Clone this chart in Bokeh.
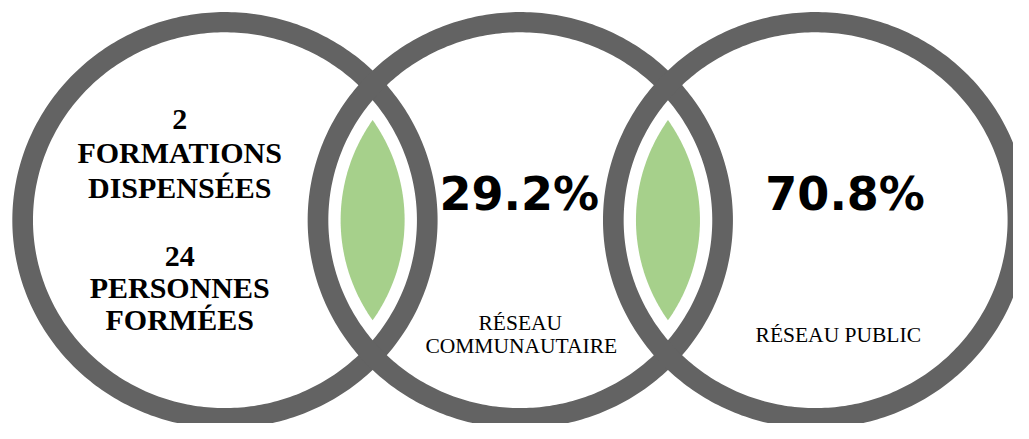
import numpy as np
from bokeh.plotting import figure
from bokeh.models import Range1d
from bokeh.core.properties import value
from bokeh.embed import file_html
from bokeh.resources import INLINE

# ---- data ----
left_lines = ["2", "FORMATIONS", "DISPENSÉES", "24", "PERSONNES", "FORMÉES"]
percents = ["29.2%", "70.8%"]
labels_comm = ["RÉSEAU", "COMMUNAUTAIRE"]
labels_pub = ["RÉSEAU PUBLIC"]

# ---- layout (reference-pixel data space) ----
W, H = 1029, 439
cx = [228, 528, 828]
cy = 228
ring_outer = 216
ring_inner = 195
lens_r = 182.5

p = figure(width=1013, height=423, x_range=Range1d(0, W), y_range=Range1d(H, 0),
           output_backend="svg", toolbar_location=None, min_border=0)
p.axis.visible = False
p.grid.visible = False
p.outline_line_color = None
p.background_fill_color = "white"
p.border_fill_color = "white"

# green lenses (intersection of neighbouring circles)
for a, b in [(cx[0], cx[1]), (cx[1], cx[2])]:
    d = b - a
    th = np.arccos((d / 2) / lens_r)
    t1 = np.linspace(-th, th, 100)
    t2 = np.linspace(np.pi - th, np.pi + th, 100)
    xs = np.concatenate([a + lens_r * np.cos(t1), b + lens_r * np.cos(t2)])
    ys = np.concatenate([cy + lens_r * np.sin(t1), cy + lens_r * np.sin(t2)])
    p.patch(xs, ys, fill_color="#a6d08b", line_color=None)

# rings as polygons with holes
t = np.linspace(0, 2 * np.pi, 360)
ring_xs, ring_ys = [], []
for c in cx:
    ring_xs.append([[list(c + ring_outer * np.cos(t)), list(c + ring_inner * np.cos(t))]])
    ring_ys.append([[list(cy + ring_outer * np.sin(t)), list(cy + ring_inner * np.sin(t))]])
p.multi_polygons(xs=ring_xs, ys=ring_ys, fill_color="#636363", line_color=None)

serif = value("Liberation Serif")
sans = value("DejaVu Sans")

left_y = [124, 158, 194, 266, 298, 331]
p.text(x=[182] * len(left_lines), y=left_y, text=left_lines, text_font=serif,
       text_font_style="bold", text_font_size="30px", text_align="center",
       text_baseline="middle", text_color="black")

p.text(x=[527, 858], y=[201, 201], text=percents, text_font=sans,
       text_font_style="bold", text_font_size="46px", text_align="center",
       text_baseline="middle", text_color="black")

p.text(x=[528, 529], y=[335, 359], text=labels_comm, text_font=serif,
       text_font_size="21.5px", text_align="center", text_baseline="middle",
       text_color="black")
p.text(x=[851], y=[347], text=labels_pub, text_font=serif,
       text_font_size="21.5px", text_align="center", text_baseline="middle",
       text_color="black")

open("out.html", "w").write(file_html(p, INLINE))
